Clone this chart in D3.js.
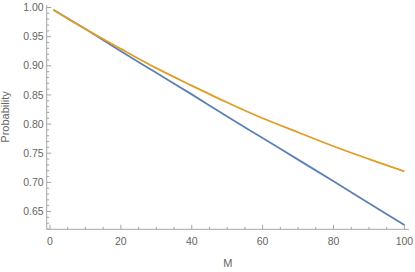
<!DOCTYPE html>
<html>
<head>
<meta charset="utf-8">
<script src="https://cdn.jsdelivr.net/npm/d3@7"></script>
<style>
  body { margin: 0; background: #fff; }
  svg text { font-family: "Liberation Sans", Arial, sans-serif; }
</style>
</head>
<body>
<div id="chart"></div>
<script>
// values
const mValues     = [1, 10, 20, 30, 40, 50, 60, 70, 80, 90, 100];
const blueValues  = [0.996, 0.963, 0.925, 0.888, 0.851, 0.813, 0.776, 0.739, 0.702, 0.664, 0.627];
const orangeValues = [0.996, 0.963, 0.929, 0.896, 0.866, 0.837, 0.810, 0.786, 0.762, 0.740, 0.719];
const xMajorTicks = [0, 20, 40, 60, 80, 100];
const yMajorTicks = [0.65, 0.70, 0.75, 0.80, 0.85, 0.90, 0.95, 1.00];
const xLabel = 'M';
const yLabel = 'Probability';

const width = 415, height = 272;
const colors = ['#5e81b5', '#e19c24'];
const axisColor = '#a6a6a6';
const labelColor = '#666';

const svg = d3.select('#chart')
    .append('svg')
    .attr('width', width)
    .attr('height', height);

const x = d3.scaleLinear().domain([-0.93, 101.3]).range([46.7, 409]);
const y = d3.scaleLinear().domain([0.6195, 1.0043]).range([229.3, 5]);

// minor ticks
const xMinor = d3.range(0, 101, 5).filter(d => d % 20 !== 0);
const yMinor = d3.range(62, 101, 1).map(d => d / 100).filter(d => Math.round(d * 100) % 5 !== 0);

// x axis (ticks point up into plot)
const gx = svg.append('g').attr('transform', `translate(0, ${y.range()[0]})`);
gx.append('line')
    .attr('x1', x.range()[0]).attr('x2', x.range()[1])
    .attr('stroke', axisColor).attr('stroke-width', 1);
gx.selectAll('.xmaj').data(xMajorTicks).enter().append('line')
    .attr('x1', d => x(d)).attr('x2', d => x(d))
    .attr('y1', 0).attr('y2', -4.5)
    .attr('stroke', axisColor);
gx.selectAll('.xmin').data(xMinor).enter().append('line')
    .attr('x1', d => x(d)).attr('x2', d => x(d))
    .attr('y1', 0).attr('y2', -2.5)
    .attr('stroke', axisColor);
gx.selectAll('text').data(xMajorTicks).enter().append('text')
    .attr('x', d => x(d)).attr('y', 15.5)
    .attr('text-anchor', 'middle')
    .attr('font-size', '10.5px')
    .attr('fill', labelColor)
    .text(d => d);

// y axis (ticks point right into plot)
const gy = svg.append('g').attr('transform', `translate(${x.range()[0]}, 0)`);
gy.append('line')
    .attr('y1', y.range()[0]).attr('y2', y.range()[1])
    .attr('stroke', axisColor).attr('stroke-width', 1);
gy.selectAll('.ymaj').data(yMajorTicks).enter().append('line')
    .attr('y1', d => y(d)).attr('y2', d => y(d))
    .attr('x1', 0).attr('x2', 4.5)
    .attr('stroke', axisColor);
gy.selectAll('.ymin').data(yMinor).enter().append('line')
    .attr('y1', d => y(d)).attr('y2', d => y(d))
    .attr('x1', 0).attr('x2', 2.5)
    .attr('stroke', axisColor);
gy.selectAll('text').data(yMajorTicks).enter().append('text')
    .attr('x', -3).attr('y', d => y(d))
    .attr('dy', '0.35em')
    .attr('text-anchor', 'end')
    .attr('font-size', '10.5px')
    .attr('fill', labelColor)
    .text(d => d3.format('.2f')(d));

// axis labels
svg.append('text')
    .attr('x', (x.range()[0] + x.range()[1]) / 2).attr('y', 267)
    .attr('text-anchor', 'middle')
    .attr('font-size', '11px')
    .attr('fill', labelColor)
    .text(xLabel);
svg.append('text')
    .attr('transform', `translate(9, 117) rotate(-90)`)
    .attr('text-anchor', 'middle')
    .attr('font-size', '11px')
    .attr('fill', labelColor)
    .text(yLabel);

// curves
const line = d3.line()
    .x(d => x(d[0]))
    .y(d => y(d[1]))
    .curve(d3.curveMonotoneX);

[blueValues, orangeValues].forEach((vals, i) => {
    svg.append('path')
        .datum(mValues.map((m, j) => [m, vals[j]]))
        .attr('d', line)
        .attr('fill', 'none')
        .attr('stroke', colors[i])
        .attr('stroke-width', 1.8);
});
</script>
</body>
</html>
